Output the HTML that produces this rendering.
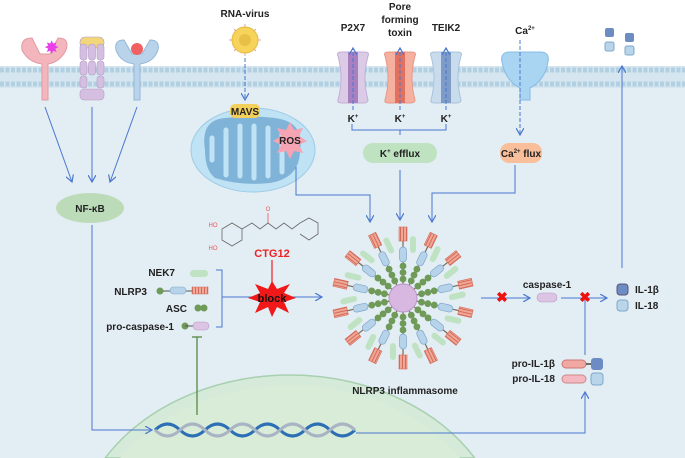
<!DOCTYPE html>
<html><head><meta charset="utf-8"><style>
html,body{margin:0;padding:0;width:685px;height:458px;overflow:hidden;background:#fff}
svg{display:block}
text{font-family:"Liberation Sans",sans-serif;font-weight:bold;font-size:10px;fill:#222}
</style></head><body>
<svg width="685" height="458" viewBox="0 0 685 458" xmlns="http://www.w3.org/2000/svg">
<defs>
<marker id="a" markerWidth="8" markerHeight="8" refX="7" refY="4" orient="auto" markerUnits="userSpaceOnUse"><path d="M0,0 L7,4 L0,8" fill="none" stroke="#4a78d0" stroke-width="1.2"/></marker>
<pattern id="st" width="3" height="6" patternUnits="userSpaceOnUse"><rect width="3" height="6" fill="#f0a896"/><rect width="1" height="6" fill="#d46a5a"/></pattern>
<g id="spoke">
<rect x="-0.6" y="-58" width="1.2" height="44" fill="#7a6a50"/>
<circle cx="0" cy="-19" r="3.4" fill="#6f9a58"/><circle cx="0" cy="-25.5" r="3.4" fill="#6f9a58"/><circle cx="0" cy="-32" r="3.4" fill="#6f9a58"/>
<rect x="-3.5" y="-51" width="7" height="15" rx="3.5" fill="#b6d3ea" stroke="#7ea7cc" stroke-width="0.7"/>
<rect x="-4" y="-71" width="8" height="14" fill="url(#st)" stroke="#d46a5a" stroke-width="0.6"/>
<rect x="7" y="-62" width="6" height="17" rx="3" fill="#bfe3c2"/>
</g>
</defs>
<rect x="0" y="75" width="685" height="383" fill="#e3edf4"/>
<rect x="0" y="66" width="685" height="22" fill="#d6e6f0"/>
<path d="M0,70 h685" stroke="#b3d0e2" stroke-width="5" stroke-dasharray="4 1.5"/>
<path d="M0,84 h685" stroke="#b3d0e2" stroke-width="5" stroke-dasharray="4 1.5"/>
<!-- nucleus -->
<path d="M105.3,458 A215,170 0 0 1 474.7,458 Z" fill="#d5ead9" stroke="#a8d0b0" stroke-width="1.5"/>
<path d="M120,458 A205,165 0 0 1 460,458 Z" fill="#d9ecd8"/>
<!-- receptors -->
<path d="M22,50 Q20,38 32,38 L40,54 L50,54 L58,38 Q70,38 66,50 Q60,62 48,64 L48,100 L42,100 L42,64 Q28,62 22,50Z" fill="#f3b6bc" stroke="#e39aa2"/>
<text x="45" y="53" style="font-size:16px;fill:#e840e8">✸</text>
<g fill="#d4bfe0" stroke="#b59ac6" stroke-width="0.6">
<rect x="80" y="37" width="24" height="11" rx="5" fill="#f2d77a"/>
<rect x="80" y="44" width="7" height="16" rx="3"/><rect x="88.5" y="44" width="7" height="16" rx="3"/><rect x="97" y="44" width="7" height="16" rx="3"/>
<rect x="80" y="61" width="7" height="14" rx="3"/><rect x="88.5" y="61" width="7" height="14" rx="3"/><rect x="97" y="61" width="7" height="14" rx="3"/>
<rect x="80" y="76" width="7" height="12" rx="3"/><rect x="97" y="76" width="7" height="12" rx="3"/>
<rect x="80" y="89" width="24" height="11" rx="4"/>
</g>
<path d="M116,50 Q114,40 124,40 L132,54 L142,54 L150,40 Q160,40 158,50 Q154,62 140,64 L140,100 L134,100 L134,64 Q120,62 116,50Z" fill="#b9d3ea" stroke="#94b8d8"/>
<circle cx="137" cy="49" r="6" fill="#f06060"/>
<g stroke="#4a78d0" stroke-width="1" fill="none" marker-end="url(#a)">
<path d="M45,107 L72,182"/><path d="M92,107 L92,182"/><path d="M137,107 L110,182"/>
</g>
<ellipse cx="90" cy="208" rx="34" ry="15" fill="#bcdcb9"/>
<text x="90" y="212" text-anchor="middle">NF-κB</text>
<!-- virus -->
<text x="245" y="17" text-anchor="middle">RNA-virus</text>
<g stroke="#d8a0b0" stroke-width="1">
<path d="M245,24 V56 M229,40 H261 M234,29 L256,51 M256,29 L234,51"/>
</g>
<circle cx="245" cy="40" r="13" fill="#f6d35a" stroke="#e4b93a"/>
<circle cx="245" cy="40" r="6" fill="#e8c048"/>
<path d="M245,58 V100" stroke="#4a78d0" stroke-dasharray="4 2" marker-end="url(#a)"/>
<!-- mitochondria -->
<ellipse cx="253" cy="150" rx="62" ry="42" fill="#bfe2f5" stroke="#9ccbe6"/>
<path d="M205,150 Q200,120 225,118 Q250,115 275,118 Q305,122 300,150 Q300,178 270,183 Q240,186 215,178 Q205,170 205,150Z" fill="#80b3d8"/>
<path d="M212,160 v-22 M226,175 v-45 M240,176 v-50 M254,178 v-52 M268,176 v-48 M282,172 v-40" stroke="#bfe2f5" stroke-width="5" stroke-linecap="round"/>
<rect x="230" y="104" width="30" height="14" rx="5" fill="#f3cf5c"/>
<text x="245" y="115" text-anchor="middle">MAVS</text>
<polygon points="290,122 294,130 303,128 299,136 307,141 299,145 303,153 294,151 290,159 286,151 277,153 281,145 273,141 281,136 277,128 286,130" fill="#f6a3b3"/>
<text x="290" y="144" text-anchor="middle">ROS</text>
<!-- channels -->
<text x="353" y="31" text-anchor="middle">P2X7</text>
<text x="400" y="10" text-anchor="middle">Pore</text>
<text x="400" y="23" text-anchor="middle">forming</text>
<text x="400" y="36" text-anchor="middle">toxin</text>
<text x="446" y="31" text-anchor="middle">TEIK2</text>
<path d="M338,56 Q336,52 342,52 h22 Q370,52 368,56 Q362,78 368,100 q0,3 -5,3 h-21 q-5,0 -4,-3 Q344,78 338,56Z" fill="#dccbe6" stroke="#c4add6"/>
<rect x="348" y="52" width="10" height="51" fill="#a880c0"/>
<path d="M385,56 Q383,52 389,52 h22 Q417,52 415,56 Q409,78 415,100 q0,3 -5,3 h-21 q-5,0 -4,-3 Q391,78 385,56Z" fill="#f5b0a0" stroke="#e89888"/>
<rect x="395" y="52" width="10" height="51" fill="#e07060"/>
<path d="M431,56 Q429,52 435,52 h22 Q463,52 461,56 Q455,78 461,100 q0,3 -5,3 h-21 q-5,0 -4,-3 Q437,78 431,56Z" fill="#c8dcee" stroke="#a8c4dc"/>
<rect x="441" y="52" width="10" height="51" fill="#7f9cc8"/>
<path d="M502,62 Q500,52 510,52 h30 Q550,52 548,62 Q545,80 530,88 v12 h-10 v-12 Q505,80 502,62Z" fill="#a9d4f2" stroke="#86bce6"/>
<text x="525" y="34" text-anchor="middle">Ca<tspan dy="-4" style="font-size:6px">2+</tspan></text>
<g stroke="#4a78d0" stroke-dasharray="4 2" fill="none" marker-end="url(#a)">
<path d="M353,110 V48"/><path d="M400,110 V48"/><path d="M446,110 V48"/><path d="M520,40 V135"/>
</g>
<text x="353" y="122" text-anchor="middle">K<tspan dy="-4" style="font-size:6px">+</tspan></text>
<text x="400" y="122" text-anchor="middle">K<tspan dy="-4" style="font-size:6px">+</tspan></text>
<text x="446" y="122" text-anchor="middle">K<tspan dy="-4" style="font-size:6px">+</tspan></text>
<path d="M352,124 V130 H446 V124 M400,130 V135" stroke="#4a78d0" fill="none"/>
<rect x="363" y="143" width="74" height="20" rx="10" fill="#bfe2c0"/>
<text x="400" y="157" text-anchor="middle">K<tspan dy="-4" style="font-size:6px">+</tspan><tspan dy="4"> efflux</tspan></text>
<rect x="500" y="143" width="42" height="20" rx="9" fill="#f9bf9a"/>
<text x="521" y="157" text-anchor="middle">Ca<tspan dy="-4" style="font-size:6px">2+</tspan><tspan dy="4"> flux</tspan></text>
<g stroke="#4a78d0" fill="none" stroke-width="1">
<path d="M296,167 V195 H370 V222" marker-end="url(#a)"/>
<path d="M400,170 V220" marker-end="url(#a)"/>
<path d="M515,165 V193 H432 V222" marker-end="url(#a)"/>
</g>
<!-- IL exit -->
<rect x="605" y="28" width="9" height="9" rx="2" fill="#6e8cc4"/><rect x="625" y="33" width="9" height="9" rx="2" fill="#6e8cc4"/>
<rect x="605" y="42" width="9" height="9" rx="2" fill="#b8d5ea" stroke="#7ea7cc"/><rect x="625" y="46" width="9" height="9" rx="2" fill="#b8d5ea" stroke="#7ea7cc"/>
<path d="M622,268 V66" stroke="#4a78d0" marker-end="url(#a)"/>
<!-- molecule -->
<g stroke="#666" stroke-width="0.8" fill="none">
<path d="M222,229 L232,223 L242,229 L242,240 L232,246 L222,240Z"/>
<path d="M242,229 L252,223 L260,229 L268,223 L276,229 L284,223 L292,229 L300,223 L309,218 L318,223 L318,234 L309,240 L300,234"/>
<path d="M268,223 V213" stroke="#e55"/>
</g>
<text x="268" y="211" text-anchor="middle" style="font-size:6px;fill:#e55;font-weight:normal">O</text>
<text x="213" y="227" text-anchor="middle" style="font-size:6px;fill:#e55;font-weight:normal">HO</text>
<text x="213" y="250" text-anchor="middle" style="font-size:6px;fill:#e55;font-weight:normal">HO</text>
<!-- components -->
<text x="175" y="276" text-anchor="end">NEK7</text>
<rect x="190" y="270" width="18" height="7" rx="3.5" fill="#bfe3c2"/>
<text x="147" y="295" text-anchor="end">NLRP3</text>
<circle cx="160" cy="291" r="3.5" fill="#6f9a58"/><path d="M163,291 h40" stroke="#555"/>
<rect x="170" y="287" width="16" height="7" rx="3.5" fill="#b6d3ea" stroke="#7ea7cc" stroke-width="0.6"/>
<rect x="192" y="287" width="16" height="7" fill="url(#st)" stroke="#d46a5a" stroke-width="0.5"/>
<text x="187" y="312" text-anchor="end">ASC</text>
<circle cx="198" cy="308" r="3.5" fill="#6f9a58"/><circle cx="204" cy="308" r="3.5" fill="#6f9a58"/>
<text x="174" y="330" text-anchor="end">pro-caspase-1</text>
<circle cx="185" cy="326" r="3.5" fill="#6f9a58"/><path d="M185,326 h8" stroke="#555"/>
<rect x="193" y="322" width="16" height="8" rx="4" fill="#dcc4e4" stroke="#b79ac8" stroke-width="0.6"/>
<path d="M216,270 H222 V327 H216 M222,297 H322" stroke="#4a78d0" fill="none" marker-end="url(#a)"/>
<text x="272" y="257" text-anchor="middle" style="fill:#e22;font-size:11px">CTG12</text>
<path d="M272,260 V290" stroke="#e22" stroke-width="1.2"/>
<polygon points="272,281 277,289 290,284 284,293 296,298 284,302 289,313 277,307 272,317 268,307 255,313 260,302 248,298 260,293 255,284 268,289" fill="#f01818"/>
<text x="272" y="302" text-anchor="middle" style="font-size:11px;fill:#111">block</text>
<path d="M197,415 V337 M192,337 H202" stroke="#6a9458" stroke-width="1.5"/>
<!-- inflammasome -->
<g transform="translate(403,298)">
<use href="#spoke" transform="rotate(0)"/><use href="#spoke" transform="rotate(25.7)"/><use href="#spoke" transform="rotate(51.4)"/><use href="#spoke" transform="rotate(77.1)"/>
<use href="#spoke" transform="rotate(102.8)"/><use href="#spoke" transform="rotate(128.5)"/><use href="#spoke" transform="rotate(154.2)"/><use href="#spoke" transform="rotate(180)"/>
<use href="#spoke" transform="rotate(205.7)"/><use href="#spoke" transform="rotate(231.4)"/><use href="#spoke" transform="rotate(257.1)"/><use href="#spoke" transform="rotate(282.8)"/>
<use href="#spoke" transform="rotate(308.5)"/><use href="#spoke" transform="rotate(334.2)"/>
<circle r="14" fill="#d8b8e0" stroke="#b896c8"/>
</g>
<text x="405" y="394" text-anchor="middle">NLRP3 inflammasome</text>
<!-- caspase -->
<path d="M481,298 H530" stroke="#4a78d0" marker-end="url(#a)"/>
<text x="502" y="302" text-anchor="middle" style="fill:#f01010;font-size:14px">✖</text>
<text x="547" y="288" text-anchor="middle">caspase-1</text>
<rect x="537" y="293" width="20" height="9" rx="4.5" fill="#dcc4e4" stroke="#b79ac8" stroke-width="0.6"/>
<path d="M561,298 H607" stroke="#4a78d0" marker-end="url(#a)"/>
<path d="M585,355 V300" stroke="#4a78d0"/>
<text x="585" y="302" text-anchor="middle" style="fill:#f01010;font-size:14px">✖</text>
<rect x="617" y="284" width="11" height="11" rx="3" fill="#6e8cc4" stroke="#557"/>
<rect x="617" y="300" width="11" height="11" rx="3" fill="#b8d5ea" stroke="#7ea7cc"/>
<text x="635" y="293">IL-1β</text>
<text x="635" y="309">IL-18</text>
<text x="555" y="367" text-anchor="end">pro-IL-1β</text>
<text x="555" y="382" text-anchor="end">pro-IL-18</text>
<rect x="562" y="360" width="24" height="8" rx="4" fill="#f0a8a0" stroke="#c77"/>
<rect x="562" y="375" width="24" height="8" rx="4" fill="#f4b8c0" stroke="#c88"/>
<path d="M586,364 h6" stroke="#444" stroke-width="1.5"/>
<rect x="591" y="358" width="12" height="12" rx="3" fill="#6e8cc4"/>
<rect x="591" y="373" width="12" height="12" rx="3" fill="#b8d5ea" stroke="#7ea7cc"/>
<!-- DNA -->
<g fill="none" stroke-width="3">
<path d="M155,430 q12.5,-12 25,0 t25,0 t25,0 t25,0 t25,0 t25,0 t25,0 t25,0" stroke="#2d6fb5"/>
<path d="M155,430 q12.5,12 25,0 t25,0 t25,0 t25,0 t25,0 t25,0 t25,0 t25,0" stroke="#a8b4c4"/>
</g>
<g stroke="#4a78d0" fill="none">
<path d="M92,225 V430 H152" marker-end="url(#a)"/>
<path d="M356,433 H585 V392" marker-end="url(#a)"/>
</g>
</svg>
</body></html>
